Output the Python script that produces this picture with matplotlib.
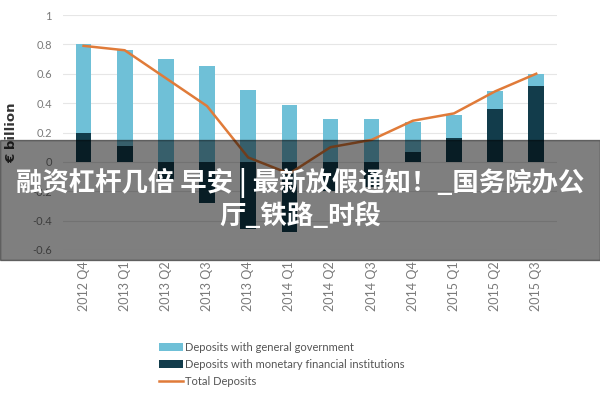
import matplotlib.pyplot as plt
import numpy as np

quarters = ["2012 Q4", "2013 Q1", "2013 Q2", "2013 Q3", "2013 Q4", "2014 Q1",
            "2014 Q2", "2014 Q3", "2014 Q4", "2015 Q1", "2015 Q2", "2015 Q3"]
# deposits with monetary financial institutions (bottom segment)
mfi = [0.20, 0.11, -0.12, -0.28, -0.46, -0.48, -0.20, -0.17, 0.07, 0.16, 0.36, 0.52]
# deposits with general government (stacked on top of the positive part)
gov = [0.60, 0.65, 0.70, 0.65, 0.49, 0.39, 0.29, 0.29, 0.20, 0.16, 0.125, 0.08]
total = [0.79, 0.76, 0.57, 0.38, 0.03, -0.08, 0.10, 0.15, 0.28, 0.33, 0.48, 0.60]
yticks = [1, 0.8, 0.6, 0.4, 0.2, 0, -0.2, -0.4, -0.6]

light = "#6fc0d7"
dark = "#123c4b"
orange = "#e07b39"
grey = "#7a7a7a"

fig = plt.figure(figsize=(6, 4), dpi=100)
ax = fig.add_axes([0.105, 0.375, 0.823, 0.5875])

x = np.arange(len(quarters))
gov_base = [max(m, 0) for m in mfi]
b_mfi = ax.bar(x, mfi, width=0.38, color=dark, zorder=2)
b_gov = ax.bar(x, gov, width=0.38, bottom=gov_base, color=light, zorder=2)
l_tot, = ax.plot(x, total, color=orange, linewidth=1.8, zorder=3)

ax.set_xlim(-0.5, len(quarters) - 0.5)
ax.set_ylim(-0.6, 1.0)
ax.set_yticks(yticks)
ax.set_yticklabels([f"{v:g}" for v in yticks], color=grey, fontsize=8, family="Lato")
ax.set_xticks(x)
ax.set_xticklabels(quarters, rotation=90, color=grey, fontsize=9, family="Lato")
ax.tick_params(length=0, pad=8)
ax.grid(axis="y", color="#e6e6e6", linewidth=0.8, zorder=0)
for s in ax.spines.values():
    s.set_visible(False)
ax.set_ylabel("€ billion", fontsize=9.5, fontweight="bold", color="#333333", labelpad=10)

fig.legend([b_gov, b_mfi, l_tot],
           ["Deposits with general government",
            "Deposits with monetary financial institutions",
            "Total Deposits"],
           loc="upper left", bbox_to_anchor=(0.255, 0.16), frameon=False,
           prop={"family": "Lato", "size": 8}, labelcolor="#555555",
           handlelength=2.2, handletextpad=0.2, labelspacing=0.55, borderpad=0)

# grey title banner over the chart
fig.patches.append(plt.Rectangle((0, 0.35), 1, 0.30, transform=fig.transFigure,
                                 color="black", alpha=0.5, zorder=10))
fig.text(0.5, 0.543, "融资杠杆几倍 早安 | 最新放假通知！_国务院办公", ha="center", va="center",
         color="white", fontsize=19, fontweight="bold", zorder=11,
         family=["Noto Sans CJK SC", "DejaVu Sans"])
fig.text(0.5, 0.458, "厅_铁路_时段", ha="center", va="center",
         color="white", fontsize=19, fontweight="bold", zorder=11,
         family=["Noto Sans CJK SC", "DejaVu Sans"])

fig.savefig("out.png", dpi=100)
